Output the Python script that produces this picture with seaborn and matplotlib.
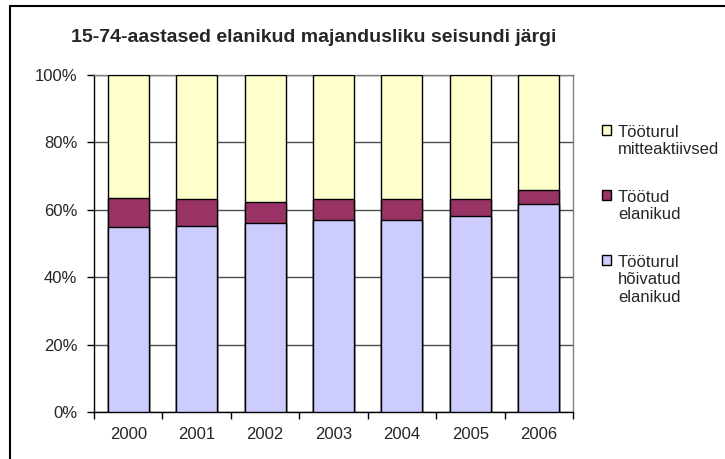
import matplotlib
matplotlib.use("Agg")
import matplotlib.pyplot as plt
from matplotlib.lines import Line2D
from matplotlib.ticker import PercentFormatter, MultipleLocator
import seaborn as sns
import pandas as pd
import numpy as np

# Data (share of 15-74 population, %)
years = ["2000", "2001", "2002", "2003", "2004", "2005", "2006"]
employed = [55.0, 55.3, 56.1, 56.9, 56.9, 58.0, 61.8]
unemployed = [8.4, 7.8, 6.1, 6.2, 6.2, 5.1, 4.0]
inactive = [36.6, 36.9, 37.8, 36.9, 36.9, 36.9, 34.2]

labels = ["Tööturul\nhõivatud\nelanikud", "Töötud\nelanikud", "Tööturul\nmitteaktiivsed"]
colors = ["#CCCCFF", "#993366", "#FFFFCC"]

df = pd.DataFrame({"year": years, "employed": employed,
                   "unemployed": unemployed, "inactive": inactive})
df["top_unemp"] = df["employed"] + df["unemployed"]
df["top_all"] = df["top_unemp"] + df["inactive"]

sns.set_style("white")
plt.rcParams["font.family"] = ["Liberation Sans", "DejaVu Sans"]

fig = plt.figure(figsize=(7.25, 4.59), dpi=100)
ax = fig.add_axes([0.1297, 0.1026, 0.6606, 0.7342])

# stacked bars: draw cumulative totals from top down
for col, lab, c in [("top_all", labels[2], colors[2]),
                    ("top_unemp", labels[1], colors[1]),
                    ("employed", labels[0], colors[0])]:
    sns.barplot(data=df, x="year", y=col, color=c, width=0.6, saturation=1,
                edgecolor="black", linewidth=1, label=lab, ax=ax, zorder=3)

ax.set_ylim(0, 100)
ax.set_xlim(-0.5, 6.5)
ax.yaxis.set_major_locator(MultipleLocator(20))
ax.yaxis.set_major_formatter(PercentFormatter(100, decimals=0))
ax.set_xlabel("")
ax.set_ylabel("")
ax.grid(axis="y", color="#4d4d4d", linewidth=1, zorder=0)
ax.set_axisbelow(True)

ax.set_xticks(np.arange(-0.5, 7, 1), minor=True)
ax.tick_params(axis="x", which="major", length=0, pad=11, labelsize=12)
ax.tick_params(axis="x", which="minor", length=5, width=1, color="black", direction="out")
ax.tick_params(axis="y", length=5, width=1, color="black", direction="out", labelsize=12, pad=7)
ax.xaxis.set_ticks_position("bottom")
ax.yaxis.set_ticks_position("left")

for side in ["left", "bottom"]:
    ax.spines[side].set_color("black")
    ax.spines[side].set_linewidth(1)
for side in ["right", "top"]:
    ax.spines[side].set_color("#808080")
    ax.spines[side].set_linewidth(1)

# legend, top entry first (inactive on top)
handles, labs = ax.get_legend_handles_labels()
if ax.get_legend() is not None:
    ax.get_legend().remove()
leg = fig.legend(handles, labs,
                 loc="upper left", bbox_to_anchor=(602 / 725, 1 - 125 / 459),
                 frameon=False, fontsize=12, labelspacing=1.95,
                 handlelength=0.55, handleheight=0.55, handletextpad=0.4,
                 borderaxespad=0, borderpad=0)
for t in leg.texts:
    t.set_linespacing(1.2)
for h in leg.legend_handles:
    h.set_edgecolor("black")
    h.set_linewidth(1)
for hp in leg._legend_handle_box.get_children()[0].get_children():
    hp.align = "top"

fig.text(71 / 725, 1 - 42 / 459, "15-74-aastased elanikud majandusliku seisundi järgi",
         fontsize=14, fontweight="bold", ha="left", va="baseline")

# outer chart frame
fig.add_artist(Line2D([10 / 725, 1.0], [1 - 6 / 459, 1 - 6 / 459],
                      transform=fig.transFigure, color="black", linewidth=1.5))
fig.add_artist(Line2D([10 / 725, 10 / 725], [0, 1 - 6 / 459],
                      transform=fig.transFigure, color="black", linewidth=1.5))

fig.savefig("out.png", dpi=100)
